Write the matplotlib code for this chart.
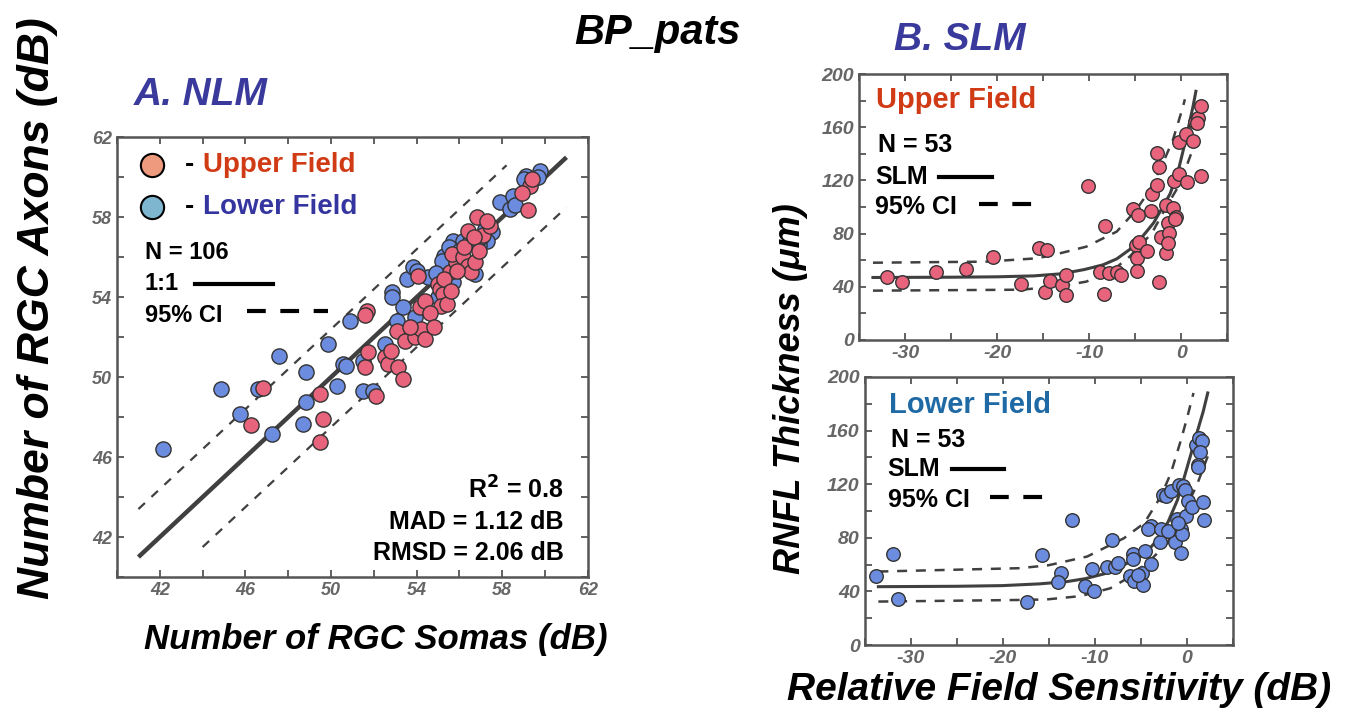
import matplotlib
matplotlib.use("Agg")
import matplotlib.pyplot as plt
import numpy as np

plt.rcParams['font.family'] = ['Liberation Sans', 'DejaVu Sans']
plt.rcParams['axes.unicode_minus'] = False

# ---- A. NLM data (somas dB, axons dB) ----
upper_somas = [46.28, 46.83, 49.5, 49.63, 49.5, 51.66, 51.6, 51.58, 51.74, 52.12,
               52.5, 52.67, 53.14, 53.37, 53.06, 53.45, 53.9, 54.2, 54.38, 54.07,
               54.15, 54.38, 55.0, 55.08, 55.24, 55.16, 55.4, 55.55, 55.86, 55.63,
               56.17, 56.4, 56.56, 56.72, 56.4, 56.8, 57.1, 57.42, 59.21, 59.29,
               59.37, 54.6, 55.3, 55.9, 56.2, 56.7, 57.3, 54.8, 53.7, 55.6,
               56.9, 52.8, 58.9]
upper_axons = [47.58, 49.47, 49.17, 47.92, 46.75, 53.33, 53.1, 50.5, 51.25, 49.08,
               51.0, 50.67, 50.53, 49.92, 52.33, 51.8, 52.0, 52.42, 51.92, 55.08,
               53.5, 53.83, 54.67, 54.42, 54.17, 53.58, 53.67, 55.25, 55.75, 56.17,
               56.0, 55.58, 55.25, 55.75, 57.33, 58.0, 57.13, 57.58, 58.37, 59.58,
               59.92, 53.2, 54.9, 55.3, 56.5, 57.0, 57.8, 52.5, 52.5, 54.3,
               56.3, 51.3, 59.2]
lower_somas = [42.16, 44.88, 45.74, 46.6, 47.22, 47.58, 48.67, 48.82, 48.85, 49.87,
               50.26, 50.57, 50.72, 50.9, 51.5, 51.5, 51.97, 52.5, 52.87, 52.83,
               53.34, 53.06, 53.45, 53.53, 53.84, 54.54, 55.0, 55.7, 55.3, 55.7,
               55.86, 56.72, 56.17, 56.49, 57.19, 57.5, 57.27, 57.89, 58.36, 58.51,
               59.13, 59.76, 59.69, 54.0, 55.5, 56.0, 56.9, 58.6, 59.0, 53.9,
               55.2, 57.0, 54.9]
lower_axons = [46.42, 49.42, 48.17, 49.42, 47.17, 51.08, 47.67, 48.75, 50.25, 51.67,
               49.58, 50.67, 50.58, 52.83, 50.83, 49.33, 49.33, 51.67, 54.25, 54.0,
               53.53, 52.83, 52.17, 54.92, 55.5, 55.0, 54.0, 54.75, 56.08, 56.83,
               55.58, 55.17, 56.83, 56.83, 57.42, 57.25, 56.83, 58.75, 58.42, 59.08,
               60.08, 60.33, 60.0, 55.3, 56.5, 56.3, 56.6, 58.6, 59.9, 53.0,
               55.8, 57.0, 55.2]
one_to_one_x = [41, 61]
one_to_one_y = [41, 61]
ci_hi_x = [41, 58.2]
ci_hi_y = [43.4, 60.6]
ci_lo_x = [44, 61]
ci_lo_y = [41.5, 58.5]

# ---- B. SLM data, upper field (sensitivity dB, RNFL um) ----
up_sens = [-32.0, -30.3, -26.6, -23.4, -20.4, -17.4, -15.4, -14.6, -14.8, -14.3,
           -13.0, -12.5, -12.5, -10.1, -8.8, -8.3, -8.4, -7.8, -7.0, -6.5,
           -5.2, -4.7, -4.9, -4.6, -4.8, -4.8, -3.7, -3.3, -3.2, -2.6,
           -2.6, -2.4, -2.4, -2.2, -1.6, -1.6, -1.4, -1.3, -1.4, -0.9,
           -0.6, -0.7, -0.8, -0.2, -0.2, 0.5, 0.6, 1.3, 1.5, 1.8,
           2.2, 2.2, 1.7]
up_rnfl = [47.6, 43.9, 51.4, 53.4, 62.7, 42.1, 68.9, 67.7, 35.8, 44.6,
           41.4, 48.9, 33.8, 115.8, 51.4, 86.0, 34.3, 50.1, 51.4, 48.9,
           98.5, 94.0, 71.4, 73.9, 61.4, 51.9, 67.2, 97.0, 109.8, 116.5,
           140.9, 129.8, 43.9, 77.7, 65.7, 101.5, 87.7, 80.2, 73.2, 99.0,
           92.7, 90.7, 119.8, 149.1, 124.8, 154.9, 119.0, 149.6, 164.2, 166.7,
           175.9, 123.6, 163.4]
up_fit_x = [-33.5, -25, -20, -16, -13, -10.5, -8.5, -7, -5.6, -4.3, -3, -2, -1.2, -0.4, 0.2, 0.8, 1.3, 1.6]
up_fit_y = [47, 47.2, 47.5, 48.2, 49.8, 53, 56.5, 61, 68, 77, 88, 100, 110, 125, 142, 160, 176, 187]
up_cih_x = [-33.5, -21.2, -15.7, -13.9, -10.3, -7.0, -4.9, -3.4, -2.0, -0.9, 0.2, 0.4]
up_cih_y = [58.1, 58.9, 61.4, 63.9, 70.2, 81.5, 97.7, 112.8, 132.8, 150.4, 175.4, 181]
up_cil_x = [-33.5, -17.5, -13.5, -10.3, -7.4, -5.6, -3.2, -1.6, -0.1, 1.1, 2.0, 2.2]
up_cil_y = [37.1, 37.8, 40.0, 43.9, 52.6, 62.7, 80.2, 100.3, 117.8, 140.4, 158.0, 161.6]

# ---- B. SLM data, lower field ----
lo_sens = [-33.8, -31.9, -31.4, -17.3, -15.7, -13.7, -14.0, -12.5, -11.0, -10.3,
           -10.1, -8.6, -8.1, -7.8, -7.5, -6.2, -5.7, -5.8, -5.8, -4.8,
           -4.7, -4.5, -3.9, -4.2, -3.9, -2.9, -2.8, -2.6, -2.2, -1.7,
           -1.6, -1.3, -1.0, -0.6, -0.6, -0.5, -0.8, -0.35, -0.2, -0.1,
           0.2, 0.6, 1.0, 1.4, 1.7, 1.5, 1.2, 1.2, 1.8, 1.9,
           -2.0, -0.9, -5.3]
lo_rnfl = [51.1, 68.0, 34.1, 31.9, 67.2, 54.0, 47.3, 92.9, 44.1, 56.5,
           40.6, 58.5, 78.5, 58.5, 61.5, 51.1, 48.1, 67.7, 64.3, 54.0,
           44.8, 70.2, 88.9, 86.4, 60.5, 76.7, 86.4, 111.6, 111.3, 114.6,
           83.9, 77.2, 93.9, 86.4, 68.5, 82.7, 119.6, 118.8, 115.3, 95.9,
           107.6, 102.9, 149.4, 154.4, 151.9, 143.7, 134.5, 132.8, 106.3, 93.4,
           85.0, 91.0, 52.0]
lo_fit_x = [-33.5, -25, -20, -16, -13, -11, -9, -7.5, -6, -5, -4, -3, -2, -1, -0.3, 0.5, 1.2, 1.8, 2.3]
lo_fit_y = [43.5, 43.8, 44.3, 45.6, 47.3, 49.5, 53, 57.5, 62.5, 66, 72, 80, 92, 108, 124, 143, 160, 174, 188]
lo_cih_x = [-33.5, -18.1, -15.0, -10.8, -6.8, -4.6, -2.8, -1.7, -0.6, 0.1, 0.75]
lo_cih_y = [54.8, 57.3, 59.5, 66.0, 79.7, 90.9, 110.8, 128.3, 153.2, 170.6, 188]
lo_cil_x = [-33.5, -18.1, -15.2, -11.5, -8.3, -6.1, -3.9, -2.1, -0.3, 1.2, 2.3]
lo_cil_y = [32.4, 33.6, 34.0, 36.5, 42.3, 51.1, 63.5, 76.0, 98.4, 120.8, 140.7]

RED = '#E8647C'
BLUE = '#6C8CDF'
EDGE = '#333333'
LINE = '#404040'
SPINE = '#555555'
TICKC = '#666666'


def style_axes(ax, labelsize):
    for sp in ax.spines.values():
        sp.set_color(SPINE)
        sp.set_linewidth(1.8)
    ax.tick_params(which='both', direction='in', top=True, right=True,
                   color=SPINE, width=1.3, labelcolor=TICKC, labelsize=labelsize)
    ax.tick_params(which='major', length=5)
    ax.tick_params(which='minor', length=5)
    for lab in ax.get_xticklabels() + ax.get_yticklabels():
        lab.set_fontstyle('italic')
        lab.set_fontweight('bold')


fig = plt.figure(figsize=(13.53, 7.15), dpi=100)

# ---------------- Panel A ----------------
axA = fig.add_axes([0.0865, 0.193, 0.348, 0.615])
axA.plot(one_to_one_x, one_to_one_y, color=LINE, lw=3.2, solid_capstyle='butt', zorder=2)
axA.plot(ci_hi_x, ci_hi_y, color=LINE, lw=1.6, dashes=(4, 4), zorder=2)
axA.plot(ci_lo_x, ci_lo_y, color=LINE, lw=1.6, dashes=(4, 4), zorder=2)
axA.scatter(lower_somas, lower_axons, s=120, c=BLUE, edgecolors=EDGE, linewidths=1, zorder=3)
axA.scatter(upper_somas, upper_axons, s=120, c=RED, edgecolors=EDGE, linewidths=1, zorder=4)
axA.set_xlim(40, 62)
axA.set_ylim(40, 62)
axA.set_xticks(np.arange(42, 63, 4))
axA.set_yticks(np.arange(42, 63, 4))
axA.set_xticks(np.arange(40, 63, 2), minor=True)
axA.set_yticks(np.arange(40, 63, 2), minor=True)
style_axes(axA, 13)

axA.scatter([0.074], [0.936], s=280, c='#EE9A7E', edgecolors='k', linewidths=1.5,
            transform=axA.transAxes, clip_on=False, zorder=5)
axA.scatter([0.074], [0.842], s=280, c='#7FB6CF', edgecolors='k', linewidths=1.5,
            transform=axA.transAxes, clip_on=False, zorder=5)
axA.text(0.144, 0.936, '-', transform=axA.transAxes, fontsize=20, fontweight='bold', va='center')
axA.text(0.183, 0.936, 'Upper Field', transform=axA.transAxes, fontsize=20,
         fontweight='bold', color='#D03A14', va='center')
axA.text(0.144, 0.842, '-', transform=axA.transAxes, fontsize=20, fontweight='bold', va='center')
axA.text(0.183, 0.842, 'Lower Field', transform=axA.transAxes, fontsize=20,
         fontweight='bold', color='#3535A0', va='center')
axA.text(0.059, 0.739, 'N = 106', transform=axA.transAxes, fontsize=17, fontweight='bold', va='center')
axA.text(0.059, 0.667, '1:1', transform=axA.transAxes, fontsize=17, fontweight='bold', va='center')
axA.plot([0.166, 0.331], [0.667, 0.667], transform=axA.transAxes, color='k', lw=3)
axA.text(0.059, 0.595, '95% CI', transform=axA.transAxes, fontsize=17, fontweight='bold', va='center')
axA.plot([0.275, 0.449], [0.605, 0.605], transform=axA.transAxes, color='k', lw=3, dashes=(4.5, 3.5))
axA.text(0.948, 0.198, 'R$^{\\mathbf{2}}$ = 0.8', transform=axA.transAxes, fontsize=18,
         fontweight='bold', ha='right', va='center')
axA.text(0.948, 0.126, 'MAD = 1.12 dB', transform=axA.transAxes, fontsize=18,
         fontweight='bold', ha='right', va='center')
axA.text(0.948, 0.054, 'RMSD = 2.06 dB', transform=axA.transAxes, fontsize=18,
         fontweight='bold', ha='right', va='center')

# ---------------- Panel B ----------------
def slm_panel(rect, sens, rnfl, fx, fy, hx, hy, lx, ly, color, title, tcolor, pos):
    ax = fig.add_axes(rect)
    ax.plot(fx, fy, color=LINE, lw=2.2, zorder=2)
    ax.plot(hx, hy, color=LINE, lw=1.8, dashes=(4, 3.5), zorder=2)
    ax.plot(lx, ly, color=LINE, lw=1.8, dashes=(4, 3.5), zorder=2)
    ax.scatter(sens, rnfl, s=95, c=color, edgecolors=EDGE, linewidths=1, zorder=3)
    ax.set_xlim(-35, 5)
    ax.set_ylim(0, 200)
    ax.set_xticks([-30, -20, -10, 0])
    ax.set_xticks(np.arange(-35, 6, 5), minor=True)
    ax.set_yticks(np.arange(0, 201, 40))
    ax.set_yticks(np.arange(0, 201, 20), minor=True)
    style_axes(ax, 14)
    tx, ty, ny, sy, cy, sl, dl = pos
    ax.text(tx, ty, title, transform=ax.transAxes, fontsize=21, fontweight='bold',
            color=tcolor, va='center')
    ax.text(tx + 0.005, ny, 'N = 53', transform=ax.transAxes, fontsize=18, fontweight='bold', va='center')
    ax.text(tx - 0.003, sy, 'SLM', transform=ax.transAxes, fontsize=18, fontweight='bold', va='center')
    ax.plot(sl, [sy, sy], transform=ax.transAxes, color='k', lw=3)
    ax.text(tx - 0.003, cy, '95% CI', transform=ax.transAxes, fontsize=18, fontweight='bold', va='center')
    ax.plot(dl, [cy + 0.01, cy + 0.01], transform=ax.transAxes, color='k', lw=3, dashes=(4.5, 3.5))
    return ax


slm_panel([0.635, 0.5245, 0.272, 0.372], up_sens, up_rnfl, up_fit_x, up_fit_y,
          up_cih_x, up_cih_y, up_cil_x, up_cil_y, RED, 'Upper Field', '#D03A14',
          (0.046, 0.902, 0.733, 0.614, 0.501, [0.216, 0.361], [0.327, 0.474]))
slm_panel([0.639, 0.0979, 0.272, 0.375], lo_sens, lo_rnfl, lo_fit_x, lo_fit_y,
          lo_cih_x, lo_cih_y, lo_cil_x, lo_cil_y, BLUE, 'Lower Field', '#1F6AA5',
          (0.066, 0.896, 0.765, 0.656, 0.541, [0.238, 0.380], [0.34, 0.486]))

# ---------------- figure texts ----------------
fig.text(0.4856, 0.954, 'BP_pats', fontsize=30, fontweight='bold', style='italic', ha='center', va='center')
fig.text(0.148, 0.867, 'A. NLM', fontsize=28, fontweight='bold', style='italic',
         color='#3A3A9C', ha='center', va='center')
fig.text(0.7095, 0.944, 'B. SLM', fontsize=28, fontweight='bold', style='italic',
         color='#3A3A9C', ha='center', va='center')
fig.text(0.278, 0.105, 'Number of RGC Somas (dB)', fontsize=25, fontweight='bold',
         style='italic', ha='center', va='center')
fig.text(0.028, 0.569, 'Number of RGC Axons (dB)', fontsize=32, fontweight='bold',
         style='italic', ha='center', va='center', rotation=90)
fig.text(0.584, 0.456, 'RNFL Thickness (μm)', fontsize=26, fontweight='bold',
         style='italic', ha='center', va='center', rotation=90)
fig.text(0.783, 0.035, 'Relative Field Sensitivity (dB)', fontsize=28, fontweight='bold',
         style='italic', ha='center', va='center')

fig.savefig('out.png', dpi=100)
